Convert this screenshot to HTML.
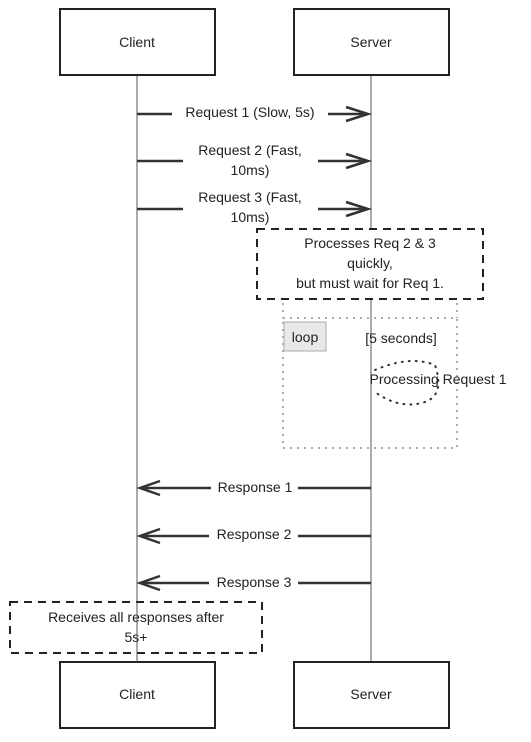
<!DOCTYPE html>
<html><head><style>
body{margin:0;background:#fff;}
svg text{font-family:"Liberation Sans",sans-serif;font-size:14px;fill:#222;}
</style></head><body>
<svg width="531" height="737" viewBox="0 0 531 737" xmlns="http://www.w3.org/2000/svg">
<line x1="137" y1="75" x2="137" y2="662" stroke="#555" stroke-width="1"/>
<line x1="371" y1="75" x2="371" y2="662" stroke="#555" stroke-width="1"/>
<g fill="#fff" stroke="#222" stroke-width="2">
<rect x="60" y="9" width="155" height="66"/>
<rect x="294" y="9" width="155" height="66"/>
<rect x="60" y="662" width="155" height="66"/>
<rect x="294" y="662" width="155" height="66"/>
</g>
<text x="137" y="47" text-anchor="middle">Client</text>
<text x="371" y="47" text-anchor="middle">Server</text>
<text x="137" y="699" text-anchor="middle">Client</text>
<text x="371" y="699" text-anchor="middle">Server</text>
<g stroke="#333" stroke-width="2.5" fill="none">
<line x1="137" y1="114" x2="172" y2="114"/><line x1="328" y1="114" x2="368" y2="114"/><path d="M346 107 L368 114 L346 121"/>
<line x1="137" y1="161" x2="183" y2="161"/><line x1="318" y1="161" x2="368" y2="161"/><path d="M346 154 L368 161 L346 168"/>
<line x1="137" y1="209" x2="183" y2="209"/><line x1="318" y1="209" x2="368" y2="209"/><path d="M346 202 L368 209 L346 216"/>
<line x1="140" y1="488" x2="211" y2="488"/><line x1="298" y1="488" x2="371" y2="488"/><path d="M160 481 L140 488 L160 495"/>
<line x1="140" y1="536" x2="209" y2="536"/><line x1="298" y1="536" x2="371" y2="536"/><path d="M160 529 L140 536 L160 543"/>
<line x1="140" y1="583" x2="209" y2="583"/><line x1="298" y1="583" x2="371" y2="583"/><path d="M160 576 L140 583 L160 590"/>
</g>
<text x="250" y="117" text-anchor="middle">Request 1 (Slow, 5s)</text>
<text x="250" y="155" text-anchor="middle">Request 2 (Fast,</text>
<text x="250" y="175" text-anchor="middle">10ms)</text>
<text x="250" y="202" text-anchor="middle">Request 3 (Fast,</text>
<text x="250" y="222" text-anchor="middle">10ms)</text>
<rect x="257" y="229" width="226" height="70" fill="#fff" stroke="#222" stroke-width="2" stroke-dasharray="8,6"/>
<text x="370" y="248" text-anchor="middle">Processes Req 2 &amp; 3</text>
<text x="370" y="268" text-anchor="middle">quickly,</text>
<text x="370" y="288" text-anchor="middle">but must wait for Req 1.</text>
<rect x="283" y="318" width="174" height="130" fill="none" stroke="#aaa" stroke-width="2" stroke-dasharray="2,5"/>
<line x1="283" y1="303" x2="283" y2="318" stroke="#aaa" stroke-width="2" stroke-dasharray="2,5"/>
<line x1="457" y1="303" x2="457" y2="318" stroke="#aaa" stroke-width="2" stroke-dasharray="2,5"/>
<rect x="284" y="322" width="42" height="29" fill="#e8e8e8" stroke="#aaa" stroke-width="1"/>
<text x="305" y="342" text-anchor="middle">loop</text>
<text x="401" y="343" text-anchor="middle">[5 seconds]</text>
<path d="M375 370 Q410 355 435 365 Q445 395 425 402 Q400 410 375 392" fill="none" stroke="#333" stroke-width="2" stroke-dasharray="1,6" stroke-linecap="round"/>
<text x="438" y="384" text-anchor="middle">Processing Request 1</text>
<text x="255" y="492" text-anchor="middle">Response 1</text>
<text x="254" y="539" text-anchor="middle">Response 2</text>
<text x="254" y="587" text-anchor="middle">Response 3</text>
<rect x="10" y="602" width="252" height="51" fill="#fff" stroke="#222" stroke-width="2" stroke-dasharray="8,6"/>
<text x="136" y="622" text-anchor="middle">Receives all responses after</text>
<text x="136" y="642" text-anchor="middle">5s+</text>
<line x1="137" y1="602" x2="137" y2="662" stroke="#555" stroke-width="1"/>
</svg>
</body></html>
